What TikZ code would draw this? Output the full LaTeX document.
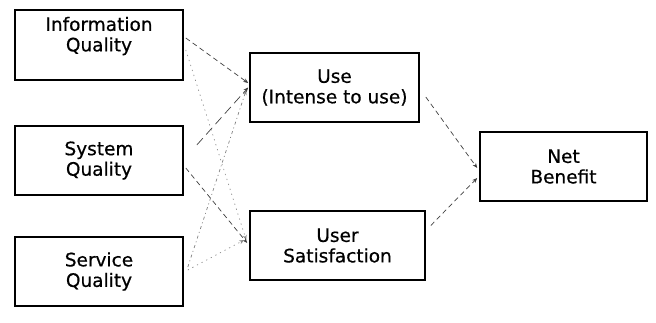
\documentclass[tikz,border=0pt]{standalone}
\usepackage{fontspec}
\setmainfont[FakeBold=0.6]{DejaVu Sans}
\usetikzlibrary{arrows.meta}
\begin{document}
\begin{tikzpicture}[x=1pt,y=-1pt,
  box/.style={draw=black, line width=1.6pt, rectangle, inner sep=0pt},
  lbl/.style={align=center, font=\fontsize{18.5}{20.5}\selectfont, inner sep=0pt},
  conn/.style={draw=black!75, line width=0.7pt, -{Stealth[length=5pt,width=4pt]}},
  dsh/.style={conn, dash pattern=on 5pt off 3.5pt},
  lng/.style={conn, dash pattern=on 9pt off 5pt},
  dts/.style={conn, draw=black!45, dash pattern=on 1.2pt off 4pt},
  dds/.style={conn, draw=black!50, dash pattern=on 3pt off 3pt on 1pt off 3pt}
]
\useasboundingbox (0,0) rectangle (656,322);
\node[box, minimum width=168pt, minimum height=70pt] (info) at (99,45) {};
\node[lbl] (infot) at (99,36) {Information\\Quality};
\node[box, minimum width=168pt, minimum height=69pt, lbl] (sys) at (99,160.5) {System\\Quality};
\node[box, minimum width=168pt, minimum height=69pt, lbl] (serv) at (99,271.5) {Service\\Quality};
\node[box, minimum width=169pt, minimum height=69pt, lbl] (use) at (334.5,87.5) {Use\\(Intense to use)};
\node[box, minimum width=175pt, minimum height=69pt, lbl] (sat) at (337.5,245.5) {User\\Satisfaction};
\node[box, minimum width=167pt, minimum height=69pt, lbl] (net) at (563.5,166.5) {Net\\Benefit};

\draw[dsh] ([xshift=2pt,yshift=7pt]info.east) -- ([xshift=-1pt,yshift=4.5pt]use.west);
\draw[dts] ([xshift=2pt,yshift=-5pt]info.east) -- ([xshift=-3pt,yshift=5.5pt]sat.west);
\draw[lng] ([xshift=13pt,yshift=15.5pt]sys.east) -- ([xshift=-1pt,yshift=0pt]use.west);
\draw[dsh] ([xshift=2pt,yshift=-7.5pt]sys.east) -- ([xshift=-2pt,yshift=2.5pt]sat.west);
\draw[dds] ([xshift=4pt,yshift=4.5pt]serv.east) -- ([xshift=-3pt,yshift=-2.5pt]use.west);
\draw[dts] ([xshift=4pt,yshift=1.5pt]serv.east) -- ([xshift=-5pt,yshift=5.5pt]sat.west);
\draw[dsh] ([xshift=6pt,yshift=-9.5pt]use.east) -- ([xshift=-2pt,yshift=-1.5pt]net.west);
\draw[dsh] ([xshift=5pt,yshift=20pt]sat.east) -- ([xshift=-2pt,yshift=-11.5pt]net.west);
\end{tikzpicture}
\end{document}
